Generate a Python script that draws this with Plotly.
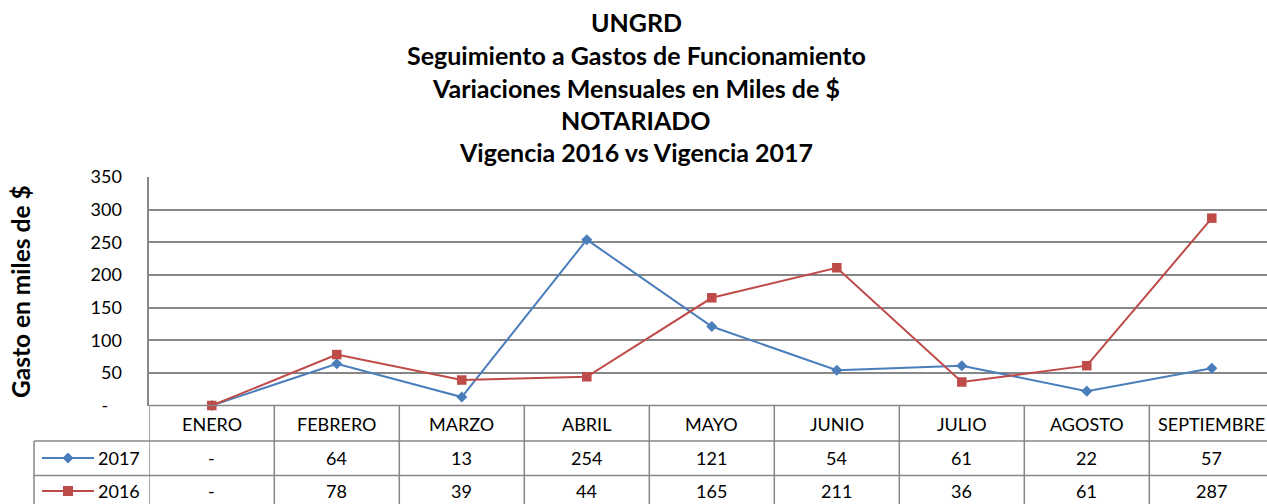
import plotly.graph_objects as go

categories = ["ENERO", "FEBRERO", "MARZO", "ABRIL", "MAYO", "JUNIO", "JULIO", "AGOSTO", "SEPTIEMBRE"]
s2017 = [0, 64, 13, 254, 121, 54, 61, 22, 57]
s2016 = [0, 78, 39, 44, 165, 211, 36, 61, 287]
ytick_vals = [0, 50, 100, 150, 200, 250, 300, 350]
ytick_text = ["-\u00a0\u00a0\u00a0", "50", "100", "150", "200", "250", "300", "350"]
title_lines = ["UNGRD", "Seguimiento a Gastos de Funcionamiento",
               "Variaciones Mensuales en Miles de $", "NOTARIADO",
               "Vigencia 2016 vs Vigencia 2017"]

W, H = 1267, 504
BLUE = "#4A7EBB"
RED = "#BE4B48"
GRID = "#878787"
FONT = "Lato"
TXT = 18


def px(x):
    return x / W


def py(y):
    return 1 - y / H


plot_left, plot_top, plot_bottom = 149.3, 177, 405.5
col_w = 125.0
n = len(categories)
x_hi = -0.5 + (W - plot_left) / col_w

fig = go.Figure()
fig.add_trace(go.Scatter(x=list(range(n)), y=s2017, mode="lines+markers",
                         line=dict(color=BLUE, width=2),
                         marker=dict(symbol="diamond", size=8.5, color=BLUE), name="2017",
                         cliponaxis=False))
fig.add_trace(go.Scatter(x=list(range(n)), y=s2016, mode="lines+markers",
                         line=dict(color=RED, width=2),
                         marker=dict(symbol="square", size=9.5, color=RED), name="2016",
                         cliponaxis=False))

shapes = []
annotations = []

row_lines = [441, 475.5, 511]
row_centers = [458, 491]
header_center = 423.5
LW = 1.5
shapes.append(dict(type="line", xref="paper", yref="paper", x0=px(plot_left), x1=1,
                   y0=py(plot_bottom), y1=py(plot_bottom), line=dict(color=GRID, width=LW)))
for yl in row_lines:
    shapes.append(dict(type="line", xref="paper", yref="paper", x0=px(34), x1=1,
                       y0=py(yl), y1=py(yl), line=dict(color=GRID, width=LW)))
shapes.append(dict(type="line", xref="paper", yref="paper", x0=px(34), x1=px(34),
                   y0=py(row_lines[0]), y1=py(row_lines[-1]), line=dict(color=GRID, width=LW)))
for i in range(n):
    shapes.append(dict(type="line", xref="x", yref="paper", x0=i - 0.5, x1=i - 0.5,
                       y0=py(plot_bottom), y1=py(row_lines[-1]), line=dict(color=GRID, width=LW)))

for i, c in enumerate(categories):
    annotations.append(dict(x=i, y=py(header_center), xref="x", yref="paper", text=c,
                            xanchor="center", yanchor="middle",
                            showarrow=False, font=dict(size=TXT, color="#000", family=FONT)))
for vals, yc in [(s2017, row_centers[0]), (s2016, row_centers[1])]:
    for i, v in enumerate(vals):
        annotations.append(dict(x=i, y=py(yc), xref="x", yref="paper",
                                text="-" if v == 0 else str(v),
                                xanchor="center", yanchor="middle",
                                showarrow=False, font=dict(size=TXT, color="#000", family=FONT)))

for name, col, yc, sym in [("2017", BLUE, row_centers[0], "diamond"),
                           ("2016", RED, row_centers[1], "square")]:
    shapes.append(dict(type="line", xref="paper", yref="paper", x0=px(42), x1=px(94),
                       y0=py(yc), y1=py(yc), line=dict(color=col, width=2)))
    cx, cy = 68, yc
    if sym == "diamond":
        d = 5.5
        path = (f"M {px(cx)} {py(cy - d)} L {px(cx + d)} {py(cy)} "
                f"L {px(cx)} {py(cy + d)} L {px(cx - d)} {py(cy)} Z")
        shapes.append(dict(type="path", xref="paper", yref="paper", path=path,
                           fillcolor=col, line=dict(color=col, width=0)))
    else:
        d = 5
        shapes.append(dict(type="rect", xref="paper", yref="paper", x0=px(cx - d), x1=px(cx + d),
                           y0=py(cy - d), y1=py(cy + d), fillcolor=col, line=dict(color=col, width=0)))
    annotations.append(dict(x=px(142), y=py(yc), xref="paper", yref="paper", text=name,
                            xanchor="right", yanchor="middle", showarrow=False,
                            font=dict(size=TXT, color="#000", family=FONT)))

title_y = [22, 55, 87.5, 120, 152]
for t, yy in zip(title_lines, title_y):
    annotations.append(dict(x=px(636), y=py(yy), xref="paper", yref="paper", text=f"<b>{t}</b>",
                            xanchor="center", yanchor="middle",
                            showarrow=False, font=dict(size=25, color="#000", family=FONT)))

annotations.append(dict(x=px(20), y=py(292), xref="paper", yref="paper",
                        text="<b>Gasto en miles de $</b>", textangle=-90, showarrow=False,
                        xanchor="center", yanchor="middle",
                        font=dict(size=24.5, color="#000", family=FONT)))

fig.update_layout(
    width=W, height=H, autosize=False,
    margin=dict(l=0, r=0, t=0, b=0, pad=0, autoexpand=False),
    paper_bgcolor="white", plot_bgcolor="white",
    showlegend=False,
    shapes=shapes, annotations=annotations,
    xaxis=dict(domain=[px(plot_left), 1], range=[-0.5, x_hi], showgrid=False,
               showticklabels=False, zeroline=False, showline=False, fixedrange=True),
    yaxis=dict(domain=[py(plot_bottom), py(plot_top)], range=[0, 350],
               tickvals=ytick_vals, ticktext=ytick_text, showgrid=True, gridcolor=GRID,
               gridwidth=LW, zeroline=False, showline=True, linecolor=GRID, linewidth=LW,
               ticks="", ticklabelstandoff=22,
               tickfont=dict(size=TXT, color="#000", family=FONT), fixedrange=True),
)

fig.write_html("out.html", config={"displayModeBar": False},
               post_script="document.body.style.margin='0';")
